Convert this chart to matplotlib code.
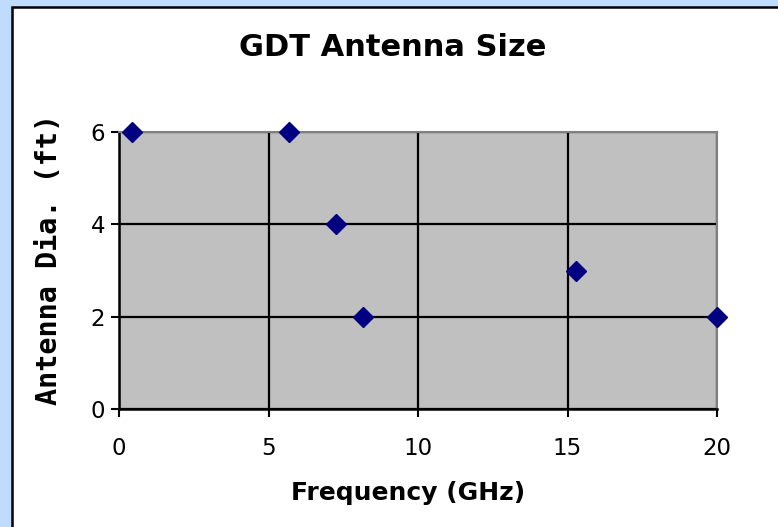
import matplotlib.pyplot as plt
from matplotlib.patches import Rectangle

# antenna diameter vs. operating frequency
freq_ghz = [0.45, 5.7, 7.25, 8.15, 15.3, 20.0]
dia_ft = [6, 6, 4, 2, 3, 2]
x_ticks = [0, 5, 10, 15, 20]
y_ticks = [0, 2, 4, 6]

W, H = 778, 527
fig = plt.figure(figsize=(W/100, H/100), dpi=100, facecolor='#BFDCFF')

# white chart box with dark border, running off the right/bottom edge
fig.patches.append(Rectangle((12/W, -0.05), 1.1, 1 - 7/H + 0.05,
                             transform=fig.transFigure, facecolor='white',
                             edgecolor='black', linewidth=1.8, zorder=-10))

ax = fig.add_axes([119/W, (H-409)/H, (717-119)/W, (409-132)/H])
ax.set_facecolor('#C0C0C0')

ax.plot(freq_ghz, dia_ft, linestyle='none', marker='D', markersize=10,
        color='#000080', clip_on=False, zorder=5)

ax.set_xlim(0, 20)
ax.set_ylim(0, 6)
ax.set_xticks(x_ticks)
ax.set_yticks(y_ticks)
ax.grid(True, color='black', linewidth=1.6)
ax.set_axisbelow(True)

for side in ('left', 'bottom'):
    ax.spines[side].set_color('black')
    ax.spines[side].set_linewidth(1.8)
for side in ('top', 'right'):
    ax.spines[side].set_color('#808080')
    ax.spines[side].set_linewidth(1.5)

ax.tick_params(direction='out', length=6, width=1.5, labelsize=16.5, pad=4,
               colors='black')
ax.tick_params(axis='x', pad=14)

fig.text(393/W, 1 - 47/H, 'GDT Antenna Size', fontsize=22, fontweight='bold',
         ha='center', va='center')
fig.text(408/W, 1 - 493/H, 'Frequency (GHz)', fontsize=18, fontweight='bold',
         ha='center', va='center')
fig.text(49/W, 1 - 259/H, 'Antenna Dia. (ft)', fontsize=20.5, fontweight='heavy',
         family='DejaVu Sans Mono', rotation=90, ha='center', va='center')

fig.savefig('out.png', dpi=100, facecolor=fig.get_facecolor())
